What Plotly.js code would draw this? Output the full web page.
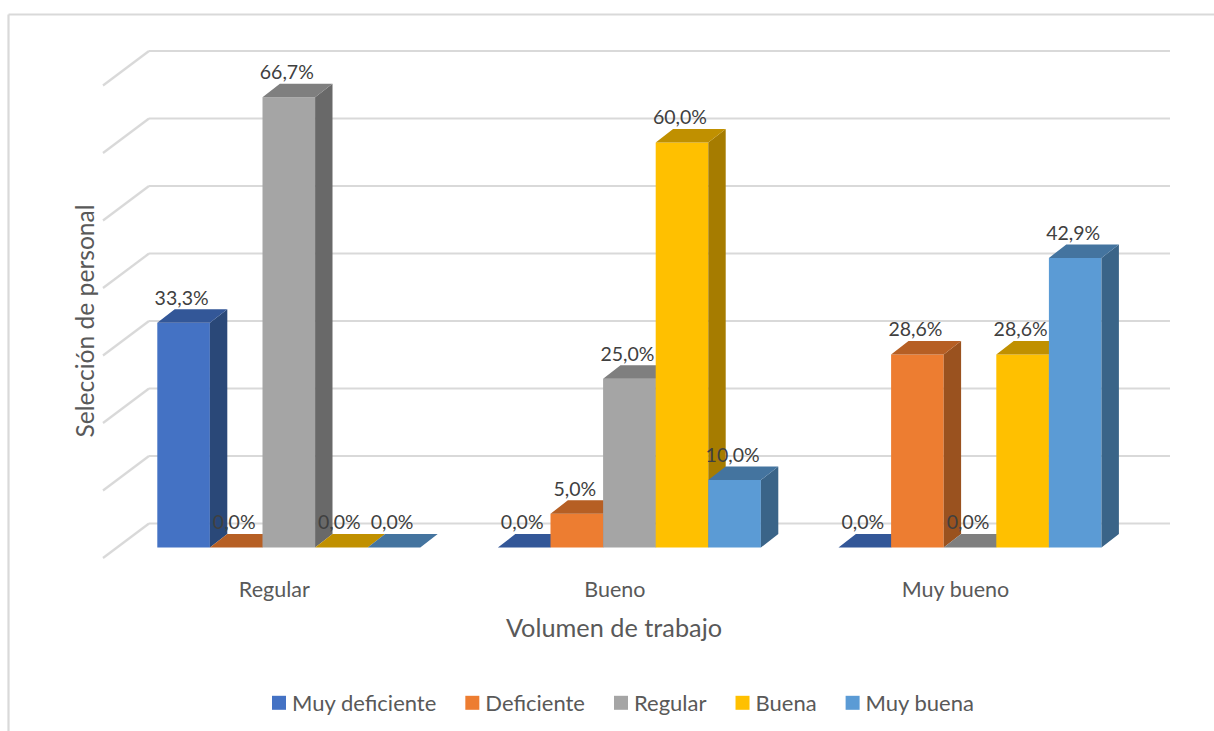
<!DOCTYPE html>
<html><head><meta charset="utf-8">
<script src="https://cdn.plot.ly/plotly-3.0.1.min.js"></script>
<style>html,body{margin:0;padding:0;background:#fff}#c{width:1214px;height:731px}</style>
</head><body><div id="c"></div>
<script>
const categories = ['Regular','Bueno','Muy bueno'];
const seriesNames = ['Muy deficiente','Deficiente','Regular','Buena','Muy buena'];
const muyDeficiente = [33.3, 0, 0];
const deficiente = [0, 5, 28.6];
const regular = [66.7, 25, 0];
const buena = [0, 60, 28.6];
const muyBuena = [0, 10, 42.9];
const seriesValues = [muyDeficiente, deficiente, regular, buena, muyBuena];
const frontColors = ['#4472C4','#ED7D31','#A5A5A5','#FFC000','#5B9BD5'];
const sideColors = ['#2A4878','#9A521F','#696969','#A67C00','#3A6488'];
const topColors = ['#335798','#B65F24','#7F7F7F','#C09000','#44749F'];
const axisTicks = [0,10,20,30,40,50,60,70];

// scale: pixels per unit, used for the pseudo-3D depth of the Excel chart
const W=1214,H=731,mL=50,mR=36,mT=49,mB=138;
const pxPerCat=340.6, pxPerPct=6.75, cat0Px=288.8, zeroPx=547.5;
const xv=p=>(p-cat0Px)/pxPerCat, yv=p=>(zeroPx-p)/pxPerPct;
const xRange=[xv(mL),xv(W-mR)], yRange=[yv(H-mB),yv(mT)];
const barW=52.6/pxPerCat, depthX=17.4/pxPerCat, depthY=13.4/pxPerPct;
const wallX0=xv(149), wallX1=xv(1170), frontX=xv(103), wallY=24/pxPerPct;
const diagDrop=10.5/pxPerPct;

const traces=[];
seriesValues.forEach((vals,i)=>{
  const n=i===0?'':String(i+1);
  const xa='x'+n, ya='y'+n;
  const off=(i-2.5)*barW;
  traces.push({type:'bar',name:seriesNames[i],x:categories.map((c,k)=>k),y:vals,width:barW,offset:off,
    marker:{color:frontColors[i],line:{width:0}},xaxis:xa,yaxis:ya,hoverinfo:'y+name',legendgroup:seriesNames[i]});
  const sx=[],sy=[],tx=[],ty=[];
  vals.forEach((v,k)=>{
    const l=k+off, r=l+barW;
    if(v>0){sx.push(r,r+depthX,r+depthX,r,r,null);sy.push(0,depthY,v+depthY,v,0,null);}
    tx.push(l,l+depthX,r+depthX,r,l,null);ty.push(v,v+depthY,v+depthY,v,v,null);
  });
  traces.push({type:'scatter',mode:'lines',x:sx,y:sy,fill:'toself',fillcolor:sideColors[i],line:{width:0,color:sideColors[i]},
    xaxis:xa,yaxis:ya,showlegend:false,hoverinfo:'skip'});
  traces.push({type:'scatter',mode:'lines',x:tx,y:ty,fill:'toself',fillcolor:topColors[i],line:{width:0,color:topColors[i]},
    xaxis:xa,yaxis:ya,showlegend:false,hoverinfo:'skip'});
});
// data labels, on the topmost overlay
const lx=[],ly=[],lt=[];
seriesValues.forEach((vals,i)=>vals.forEach((v,k)=>{
  lx.push(k+(i-2)*barW-2/pxPerCat); ly.push(v+23/pxPerPct); lt.push(v.toFixed(1).replace('.',',')+'%');
}));
const font='Lato, Open Sans, sans-serif';
traces.push({type:'scatter',mode:'text',x:lx,y:ly,text:lt,textposition:'middle center',
  textfont:{family:font,size:19.5,color:'#404040'},xaxis:'x5',yaxis:'y5',showlegend:false,hoverinfo:'skip'});

const gridLine={color:'#D9D9D9',width:2.2};
const shapes=[];
axisTicks.forEach(t=>{
  shapes.push({type:'line',layer:'below',xref:'x',yref:'y',x0:wallX0,x1:wallX1,y0:t+wallY,y1:t+wallY,line:gridLine});
  shapes.push({type:'line',layer:'below',xref:'x',yref:'y',x0:frontX,x1:wallX0,y0:t-diagDrop,y1:t+wallY,line:gridLine});
});
const pw=W-mL-mR, ph=H-mT-mB;
const px=p=>(p-mL)/pw, py=p=>1-(p-mT)/ph;
shapes.push({type:'line',xref:'paper',yref:'paper',x0:px(8.5),x1:px(1214),y0:py(14.5),y1:py(14.5),line:gridLine});
shapes.push({type:'line',xref:'paper',yref:'paper',x0:px(8.5),x1:px(8.5),y0:py(14.5),y1:py(731),line:gridLine});

const layout={
  width:W,height:H,margin:{l:mL,r:mR,t:mT,b:mB,autoexpand:false},
  paper_bgcolor:'#fff',plot_bgcolor:'rgba(0,0,0,0)',
  font:{family:font,color:'#595959'},showlegend:true,
  shapes:shapes,
  xaxis:{range:xRange,fixedrange:true,anchor:'free',position:1-(574-mT)/ph,showgrid:false,zeroline:false,showline:false,ticks:'',
    tickmode:'array',tickvals:categories.map((c,k)=>k-14.5/pxPerCat),ticktext:categories,tickfont:{family:font,size:21.5,color:'#595959'},
    title:{text:'Volumen de trabajo',font:{family:font,size:25.3,color:'#595959'},standoff:18}},
  yaxis:{range:yRange,fixedrange:true,anchor:'free',position:px(105),showgrid:false,zeroline:false,showline:false,ticks:'',showticklabels:false,
    title:{text:'Selección de personal',font:{family:font,size:24.6,color:'#595959'},standoff:2}},
  legend:{orientation:'h',x:px(248),xanchor:'left',y:py(703),yanchor:'middle',itemwidth:34,font:{family:font,size:22,color:'#595959'},bgcolor:'rgba(0,0,0,0)'}
};
for(let k=2;k<=5;k++){
  layout['xaxis'+k]={range:xRange,overlaying:'x',visible:false,fixedrange:true};
  layout['yaxis'+k]={range:yRange,overlaying:'y',visible:false,fixedrange:true};
}
Plotly.newPlot('c',traces,layout,{displayModeBar:false}).then(()=>{
  // legend swatches: 14 px squares set close to their text, as in the reference
  document.querySelectorAll('#c .legend .legendpoints').forEach(g=>g.setAttribute('transform','translate(9,0)'));
  document.querySelectorAll('#c .legend .legendbar path, #c .legend path.legendundefined').forEach(p=>p.setAttribute('d','M7,7H-7V-7H7Z'));
});
</script></body></html>
